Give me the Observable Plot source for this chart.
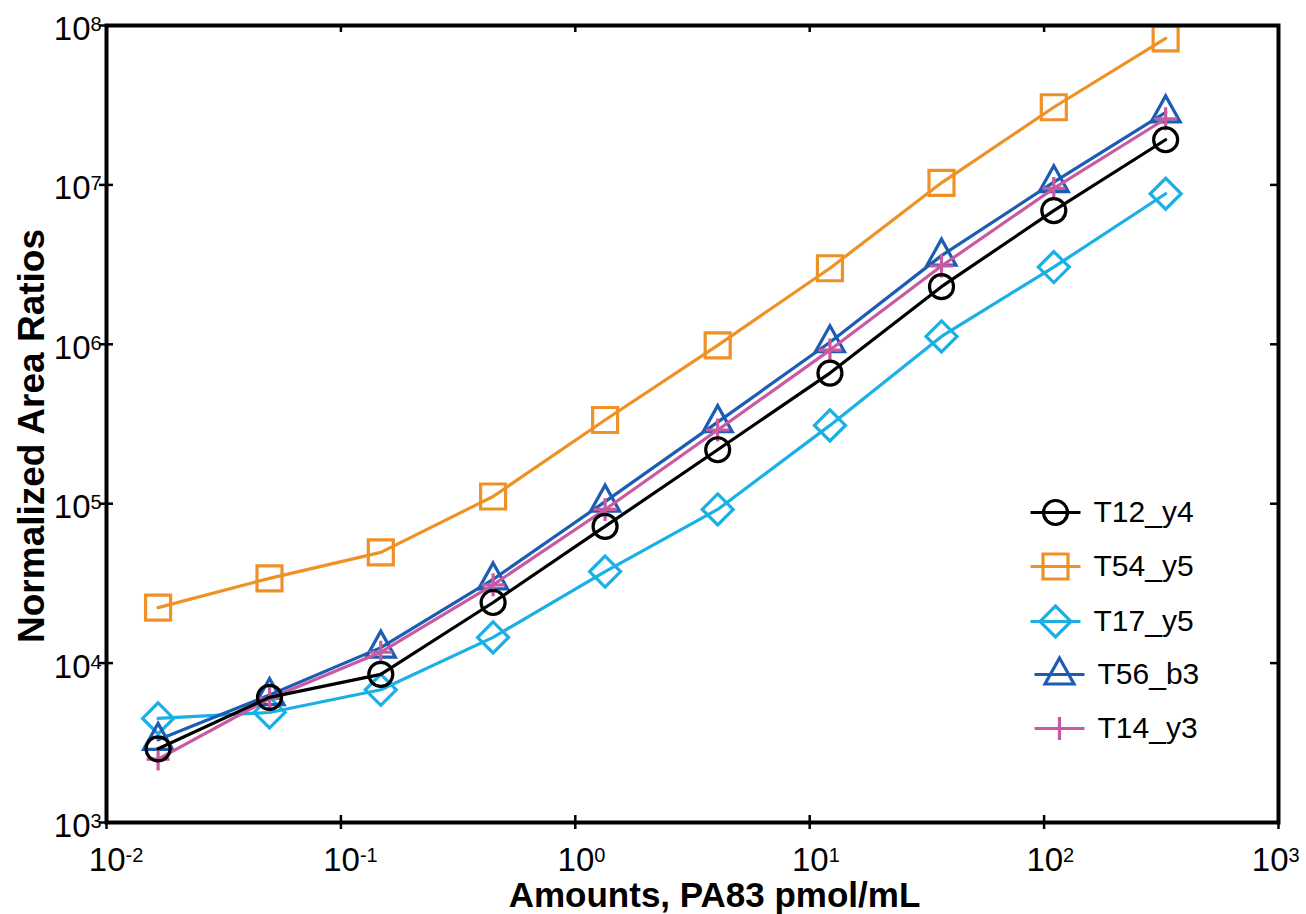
<!DOCTYPE html>
<html><head><meta charset="utf-8">
<script src="https://cdn.jsdelivr.net/npm/d3@7"></script>
<script src="https://cdn.jsdelivr.net/npm/@observablehq/plot@0.6"></script>
<style>body{margin:0;background:#fff}</style>
</head><body><div id="chart"></div>
<script>
// ---- data ----
const amounts = [0.0166, 0.0496, 0.148, 0.446, 1.34, 4.05, 12.2, 36.5, 110, 330];
const seriesNames = ["T12_y4", "T54_y5", "T17_y5", "T56_b3", "T14_y3"];
const T12_y4 = [2900, 6100, 8500, 24000, 72000, 218000, 660000, 2.3e6, 6.9e6, 1.92e7];
const T54_y5 = [22300, 34000, 49500, 111000, 335000, 985000, 3.0e6, 1.03e7, 3.07e7, 8.3e7];
const T17_y5 = [4500, 4900, 6800, 14500, 37500, 92000, 310000, 1.12e6, 3.05e6, 8.8e6];
const T56_b3 = [3300, 6300, 12500, 33500, 103000, 325000, 1.03e6, 3.6e6, 1.04e7, 2.85e7];
const T14_y3 = [2500, 6000, 11700, 31000, 92000, 290000, 920000, 3.1e6, 9.5e6, 2.6e7];
const seriesValues = [T12_y4, T54_y5, T17_y5, T56_b3, T14_y3];
const seriesColors = ["#000000", "#EE9127", "#1AB0E6", "#1C5DB3", "#C85AA2"];
const xTicks = [0.01, 0.1, 1, 10, 100, 1000];
const xTickExp = ["-2", "-1", "0", "1", "2", "3"];
const yTicks = [1e3, 1e4, 1e5, 1e6, 1e7, 1e8];
const yTickExp = ["3", "4", "5", "6", "7", "8"];
const xLabel = "Amounts, PA83 pmol/mL";
const yLabel = "Normalized Area Ratios";

// ---- marker shapes (MATLAB-like, unfilled) ----
const symCircle = {draw(c) { c.moveTo(12, 0); c.arc(0, 0, 12, 0, 2 * Math.PI); c.closePath(); }};
const symSquare = {draw(c) { const h = 12.5; c.moveTo(-h, -h); c.lineTo(h, -h); c.lineTo(h, h); c.lineTo(-h, h); c.closePath(); }};
const symDiamond = {draw(c) { const h = 15.5; c.moveTo(0, -h); c.lineTo(h, 0); c.lineTo(0, h); c.lineTo(-h, 0); c.closePath(); }};
const symTriangle = {draw(c) { c.moveTo(0, -16.5); c.lineTo(14.5, 9.5); c.lineTo(-14.5, 9.5); c.closePath(); }};
const symPlus = {draw(c) { const h = 11.5; c.moveTo(-h, 0); c.lineTo(h, 0); c.moveTo(0, -h); c.lineTo(0, h); }};
const symLegendLine = {draw(c) { c.moveTo(-25, 0); c.lineTo(25, 0); }};
const seriesSymbols = [symCircle, symSquare, symDiamond, symTriangle, symPlus];

const rows = seriesNames.map((s, i) => amounts.map((a, j) => ({series: s, x: a, y: seriesValues[i][j]})));

const W = 1306, H = 914, mL = 106, mR = 28, mT = 25, mB = 92;
const fw = W - mL - mR, fh = H - mT - mB;
const font = "'Liberation Sans', Arial, Helvetica, sans-serif";

const marks = [];
// data lines + markers (black drawn last, on top)
for (const i of [1, 2, 3, 4, 0]) {
  marks.push(Plot.line(rows[i], {x: "x", y: "y", stroke: seriesColors[i], strokeWidth: 3.2}));
  marks.push(Plot.dot(rows[i], {x: "x", y: "y", symbol: seriesSymbols[i], stroke: seriesColors[i], fill: "none", strokeWidth: 3.2}));
}
// frame + ticks
marks.push(Plot.frame({stroke: "black", strokeWidth: 4}));
marks.push(Plot.ruleX(xTicks, {x: d => d, insetBottom: fh - 7, stroke: "black", strokeWidth: 2.5}));
marks.push(Plot.ruleX(xTicks, {x: d => d, insetTop: fh - 7, insetBottom: -7, stroke: "black", strokeWidth: 2.5}));
marks.push(Plot.ruleY(yTicks, {y: d => d, insetLeft: -7, insetRight: fw - 7, stroke: "black", strokeWidth: 2.5}));
marks.push(Plot.ruleY(yTicks, {y: d => d, insetLeft: fw - 8, stroke: "black", strokeWidth: 2.5}));
// tick labels: "10" with superscript exponent (last x label pulled in to fit, as in the reference)
const xInner = xTicks.slice(0, 5), xLast = xTicks.slice(5);
const xLabelOpts = {frameAnchor: "bottom", lineAnchor: "top", dy: 25};
marks.push(Plot.text(xInner, {...xLabelOpts, x: d => d, text: () => "10", textAnchor: "end", dx: 19, fontSize: 33}));
marks.push(Plot.text(xInner, {...xLabelOpts, x: d => d, text: (d, i) => xTickExp[i], textAnchor: "start", dx: 19, fontSize: 20}));
marks.push(Plot.text(xLast, {...xLabelOpts, x: d => d, text: () => "10", textAnchor: "end", dx: 10, fontSize: 33}));
marks.push(Plot.text(xLast, {...xLabelOpts, x: d => d, text: (d, i) => xTickExp[5 + i], textAnchor: "start", dx: 10, fontSize: 20}));
marks.push(Plot.text(yTicks, {y: d => d, text: () => "10", frameAnchor: "left", lineAnchor: "middle", textAnchor: "end", dx: -16, dy: 4, fontSize: 33}));
marks.push(Plot.text(yTicks, {y: d => d, text: (d, i) => yTickExp[i], frameAnchor: "left", lineAnchor: "middle", textAnchor: "start", dx: -16, dy: -1, fontSize: 20}));
// axis titles
marks.push(Plot.text([xLabel], {text: d => d, frameAnchor: "bottom", lineAnchor: "bottom", textAnchor: "middle", dx: 22, dy: 84, fontSize: 35, fontWeight: "bold"}));
marks.push(Plot.text([yLabel], {text: d => d, frameAnchor: "left", lineAnchor: "bottom", textAnchor: "middle", rotate: -90, dx: -63, dy: 12, fontSize: 37, fontWeight: "bold"}));
// legend
const legendRows = [512, 566, 621, 674, 728];
const legendShift = [0, 0, 0, 4, 4];
seriesNames.forEach((s, i) => {
  const dx = 1055 - mL + legendShift[i], dy = legendRows[i] - mT;
  marks.push(Plot.dot([s], {frameAnchor: "top-left", dx, dy, symbol: symLegendLine, stroke: seriesColors[i], strokeWidth: 3.2, fill: "none"}));
  marks.push(Plot.dot([s], {frameAnchor: "top-left", dx, dy, symbol: seriesSymbols[i], stroke: seriesColors[i], strokeWidth: 3.2, fill: "none"}));
  marks.push(Plot.text([s], {text: d => d, frameAnchor: "top-left", dx: dx + 38, dy, lineAnchor: "middle", textAnchor: "start", fontSize: 30}));
});

const chart = Plot.plot({
  width: W, height: H,
  marginLeft: mL, marginRight: mR, marginTop: mT, marginBottom: mB,
  x: {type: "log", domain: [0.01, 1000], axis: null},
  y: {type: "log", domain: [1e3, 1e8], axis: null},
  style: {fontFamily: font, background: "white", color: "black"},
  marks
});
document.getElementById("chart").appendChild(chart);
</script>
</body></html>
